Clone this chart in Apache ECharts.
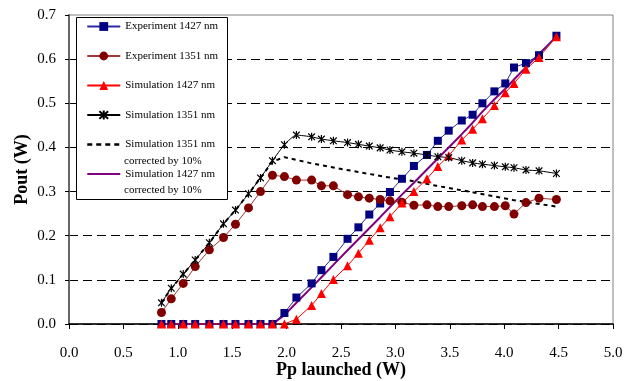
<!DOCTYPE html>
<html>
<head>
<meta charset="utf-8">
<script src="https://cdn.jsdelivr.net/npm/echarts@6/dist/echarts.min.js"></script>
<style>
html,body{margin:0;padding:0;background:#fff;}
#chart{width:634px;height:381px;}
</style>
</head>
<body>
<div id="chart"></div>
<script>
// Pump power launched (W) for measurement / simulation points
var xVals = [0.85, 0.94, 1.05, 1.16, 1.29, 1.42, 1.53, 1.65, 1.76, 1.87, 1.98, 2.09, 2.23, 2.32, 2.43, 2.56, 2.66, 2.76, 2.86, 2.95, 3.06, 3.17, 3.29, 3.39, 3.49, 3.61, 3.71, 3.80, 3.91, 4.01, 4.09, 4.20, 4.32, 4.48];
var exp1427 = [0, 0, 0, 0, 0, 0, 0, 0, 0, 0, 0.025, 0.060, 0.092, 0.122, 0.152, 0.193, 0.219, 0.248, 0.273, 0.299, 0.329, 0.358, 0.383, 0.415, 0.438, 0.461, 0.474, 0.500, 0.527, 0.545, 0.581, 0.591, 0.609, 0.653];
var exp1351 = [0.026, 0.057, 0.092, 0.130, 0.168, 0.196, 0.226, 0.263, 0.300, 0.337, 0.334, 0.326, 0.326, 0.313, 0.313, 0.293, 0.288, 0.285, 0.282, 0.279, 0.276, 0.269, 0.270, 0.266, 0.266, 0.268, 0.270, 0.266, 0.266, 0.268, 0.249, 0.275, 0.285, 0.282];
var sim1427 = [0, 0, 0, 0, 0, 0, 0, 0, 0, 0, 0, 0.011, 0.042, 0.069, 0.101, 0.132, 0.160, 0.190, 0.218, 0.243, 0.274, 0.300, 0.329, 0.357, 0.381, 0.417, 0.441, 0.465, 0.495, 0.524, 0.545, 0.577, 0.604, 0.651];
var sim1351 = [0.048, 0.081, 0.113, 0.145, 0.184, 0.227, 0.258, 0.295, 0.331, 0.370, 0.406, 0.428, 0.424, 0.419, 0.415, 0.411, 0.407, 0.403, 0.399, 0.394, 0.390, 0.387, 0.383, 0.379, 0.377, 0.370, 0.365, 0.362, 0.359, 0.356, 0.354, 0.349, 0.347, 0.341];
var sim1427corr = [0, 0, 0, 0, 0, 0, 0, 0, 0, 0, 0.020, 0.048, 0.083, 0.106, 0.134, 0.167, 0.192, 0.217, 0.242, 0.265, 0.293, 0.320, 0.350, 0.375, 0.400, 0.430, 0.456, 0.481, 0.509, 0.533, 0.554, 0.582, 0.612, 0.651];
var xCorr1351 = [0.85, 0.94, 1.05, 1.16, 1.29, 1.42, 1.53, 1.65, 1.76, 1.87, 1.98, 2.21, 2.46, 2.67, 2.89, 3.13, 3.38, 3.72, 4.08, 4.48];
var sim1351corr = [0.048, 0.081, 0.113, 0.145, 0.184, 0.227, 0.258, 0.295, 0.331, 0.368, 0.378, 0.365, 0.353, 0.344, 0.334, 0.325, 0.313, 0.298, 0.281, 0.266];

var seriesNames = ['Experiment 1427 nm', 'Experiment 1351 nm', 'Simulation 1427 nm', 'Simulation 1351 nm', 'Simulation 1351 nm ', 'Simulation 1427 nm '];
var xTickLabels = ['0.0','0.5','1.0','1.5','2.0','2.5','3.0','3.5','4.0','4.5','5.0'];
var yTickLabels = ['0.0','0.1','0.2','0.3','0.4','0.5','0.6','0.7'];

function pairs(xs, ys) { return xs.map(function (x, i) { return [x, ys[i]]; }); }

var serif = '"Liberation Serif", "Times New Roman", serif';
var starPath = 'path://M0,0L10,10M10,0L0,10M5,-1L5,11';
var noMarker = {color: 'rgba(0,0,0,0)', borderWidth: 0, opacity: 0};

var chart = echarts.init(document.getElementById('chart'), null, {renderer: 'canvas'});
chart.setOption({
  animation: false,
  backgroundColor: '#fff',
  textStyle: {fontFamily: serif},
  grid: {left: 69, right: 21, top: 15, bottom: 57, show: true, borderColor: '#808080', borderWidth: 1,
    backgroundColor: 'transparent', containLabel: false, outerBoundsMode: 'none'},
  xAxis: {
    type: 'value', min: 0, max: 5, interval: 0.5,
    name: 'Pp launched (W)', nameLocation: 'middle', nameGap: 46, nameMoveOverlap: false,
    nameTextStyle: {fontFamily: serif, fontSize: 18, fontWeight: 'bold', color: '#000', verticalAlign: 'middle'},
    axisLine: {show: true, onZero: false, lineStyle: {color: '#000', width: 1.5}},
    axisTick: {show: true, inside: false, length: 5, lineStyle: {color: '#000'}},
    axisLabel: {fontFamily: serif, fontSize: 15, color: '#000', margin: 22,
      formatter: function (v) { return xTickLabels[Math.round(v / 0.5)]; }},
    splitLine: {show: false}
  },
  yAxis: {
    type: 'value', min: 0, max: 0.7, interval: 0.1,
    name: 'Pout (W)', nameLocation: 'middle', nameGap: 47, nameMoveOverlap: false,
    nameTextStyle: {fontFamily: serif, fontSize: 18, fontWeight: 'bold', color: '#000', verticalAlign: 'middle'},
    axisLine: {show: true, onZero: false, lineStyle: {color: '#666', width: 2}},
    axisTick: {show: true, inside: false, length: 4, lineStyle: {color: '#000'}},
    axisLabel: {fontFamily: serif, fontSize: 15, color: '#000', margin: 13,
      formatter: function (v) { return yTickLabels[Math.round(v / 0.1)]; }},
    splitLine: {show: true, lineStyle: {color: ['#000','#000','#000','#000','#000','#000','#000','rgba(0,0,0,0)'], type: [9, 5], width: 1}}
  },
  legend: {
    orient: 'vertical', left: 86, top: 21, padding: 0,
    itemWidth: 33, itemHeight: 11, itemGap: 18.5,
    textStyle: {fontFamily: serif, fontSize: 11, color: '#000', lineHeight: 11},
    data: [
      {name: seriesNames[0]},
      {name: seriesNames[1]},
      {name: seriesNames[2]},
      {name: seriesNames[3]},
      {name: seriesNames[4], itemStyle: noMarker, lineStyle: {type: [5, 4], width: 2.5, color: '#000'}},
      {name: seriesNames[5], itemStyle: noMarker}
    ],
    z: 6
  },
  graphic: [
    {type: 'rect', left: 76, top: 17, z: 5, shape: {width: 151, height: 182}, style: {fill: '#fff', stroke: '#000', lineWidth: 1}},
    {type: 'text', left: 124, top: 156, z: 7, style: {text: 'corrected by 10%', font: '11px "Liberation Serif"', fill: '#000'}},
    {type: 'text', left: 124, top: 185, z: 7, style: {text: 'corrected by 10%', font: '11px "Liberation Serif"', fill: '#000'}}
  ],
  series: [
    {name: seriesNames[5], type: 'line', data: pairs(xVals, sim1427corr), showSymbol: false, symbol: 'none',
      lineStyle: {color: '#800080', width: 2}, itemStyle: {color: '#800080'}, z: 2},
    {name: seriesNames[4], type: 'line', data: pairs(xCorr1351, sim1351corr), showSymbol: false, symbol: 'none',
      lineStyle: {color: '#000', width: 2, type: [4, 4]}, itemStyle: {color: '#000'}, z: 2},
    {name: seriesNames[0], type: 'line', data: pairs(xVals, exp1427), symbol: 'rect', symbolSize: 8,
      lineStyle: {color: '#2a2aa0', width: 1}, itemStyle: {color: '#000080'}, z: 3},
    {name: seriesNames[1], type: 'line', data: pairs(xVals, exp1351), symbol: 'circle', symbolSize: 9,
      lineStyle: {color: '#a03535', width: 1}, itemStyle: {color: '#800000'}, z: 3},
    {name: seriesNames[2], type: 'line', data: pairs(xVals, sim1427), symbol: 'triangle', symbolSize: 9,
      lineStyle: {color: '#ff0000', width: 1}, itemStyle: {color: '#ff0000'}, z: 3},
    {name: seriesNames[3], type: 'line', data: pairs(xVals, sim1351), symbol: starPath, symbolSize: 8, symbolKeepAspect: true,
      smooth: 0.2,
      lineStyle: {color: '#000', width: 1}, itemStyle: {color: '#000', borderColor: '#000', borderWidth: 1.2}, z: 3}
  ]
});
</script>
</body>
</html>
